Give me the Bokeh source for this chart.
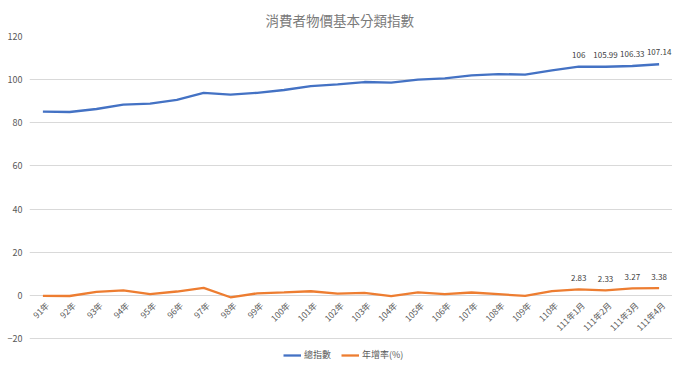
import math
from bokeh.plotting import figure
from bokeh.models import FactorRange, Range1d, ColumnDataSource, Legend, LegendItem, FixedTicker
from bokeh.core.properties import value
from bokeh.embed import file_html
from bokeh.resources import INLINE

categories = ["91年", "92年", "93年", "94年", "95年", "96年", "97年", "98年", "99年", "100年",
              "101年", "102年", "103年", "104年", "105年", "106年", "107年", "108年", "109年", "110年",
              "111年1月", "111年2月", "111年3月", "111年4月"]
total_index = [85.2, 85.0, 86.4, 88.4, 88.9, 90.6, 93.9, 93.1, 93.9, 95.2,
               97.0, 97.8, 98.9, 98.6, 100.0, 100.6, 102.0, 102.6, 102.3, 104.3,
               106.0, 105.99, 106.33, 107.14]
yoy_rate = [-0.20, -0.28, 1.61, 2.30, 0.60, 1.80, 3.52, -0.87, 0.96, 1.42,
            1.93, 0.79, 1.20, -0.30, 1.40, 0.62, 1.35, 0.56, -0.23, 1.96,
            2.83, 2.33, 3.27, 3.38]
y_ticks = [-20, 0, 20, 40, 60, 80, 100, 120]
series_names = ["總指數", "年增率(%)"]

FONT = "Noto Sans CJK TC"
BLUE = "#4472C4"
ORANGE = "#ED7D31"
GRAY = "#595959"

# frame runs to the bottom edge so the legend (drawn inside the frame) is not clipped;
# only the -20..120 ticks/grid lines are shown
p = figure(width=672, height=362, x_range=FactorRange(*categories, range_padding=0),
           y_range=Range1d(-31.1, 120), output_backend="svg", toolbar_location=None,
           min_border_left=29, min_border_right=0, min_border_top=36, min_border_bottom=0)
p.outline_line_color = None
p.title.text = "消費者物價基本分類指數"
p.title.align = "left"
p.title.offset = 236
p.title.text_font = FONT
p.title.text_font_size = "13.5px"
p.title.text_font_style = "normal"
p.title.text_color = "#7a7a7a"
p.title.standoff = 13

src = ColumnDataSource(dict(cat=categories, total=total_index, yoy=yoy_rate, zero=[0] * len(categories)))
r1 = p.line("cat", "total", source=src, line_color=BLUE, line_width=2.3)
r2 = p.line("cat", "yoy", source=src, line_color=ORANGE, line_width=2.3)

# category labels drawn at the zero line (axis crossing at 0)
p.text("cat", "zero", text="cat", source=src, angle=math.pi / 4, text_align="right",
       text_baseline="middle", x_offset=4, y_offset=8, text_font=value(FONT),
       text_font_size="8.5px", text_color=GRAY)

# data labels on the last four points
lab = ColumnDataSource(dict(cat=categories[-4:], total=total_index[-4:], yoy=yoy_rate[-4:],
                            tl=[f"{v:g}" for v in total_index[-4:]],
                            yl=[f"{v:g}" for v in yoy_rate[-4:]]))
p.text("cat", "total", text="tl", source=lab, text_align="center", text_baseline="bottom",
       y_offset=-9, text_font=value(FONT), text_font_size="8px", text_color="#404040")
p.text("cat", "yoy", text="yl", source=lab, text_align="center", text_baseline="bottom",
       y_offset=-8, text_font=value(FONT), text_font_size="8px", text_color="#404040")

p.xaxis.visible = False
p.xgrid.grid_line_color = None
p.ygrid.grid_line_color = "#d9d9d9"
p.ygrid.grid_line_width = 1
p.yaxis.ticker = FixedTicker(ticks=y_ticks)
p.yaxis.axis_line_color = None
p.yaxis.major_tick_line_color = None
p.yaxis.minor_tick_line_color = None
p.yaxis.major_tick_out = 0
p.yaxis.major_tick_in = 0
p.yaxis.major_label_text_font = FONT
p.yaxis.major_label_text_font_size = "9px"
p.yaxis.major_label_text_color = GRAY
p.yaxis.major_label_standoff = 7

legend = Legend(items=[LegendItem(label=series_names[0], renderers=[r1]),
                       LegendItem(label=series_names[1], renderers=[r2])],
                orientation="horizontal", location=(254, 1), padding=2, margin=0,
                glyph_width=18, glyph_height=10, label_height=10, spacing=10,
                label_standoff=3,
                label_text_font=FONT, label_text_font_size="9px", label_text_color=GRAY,
                border_line_color=None, background_fill_alpha=0)
p.add_layout(legend, "center")

open("out.html", "w").write(file_html(p, INLINE))
